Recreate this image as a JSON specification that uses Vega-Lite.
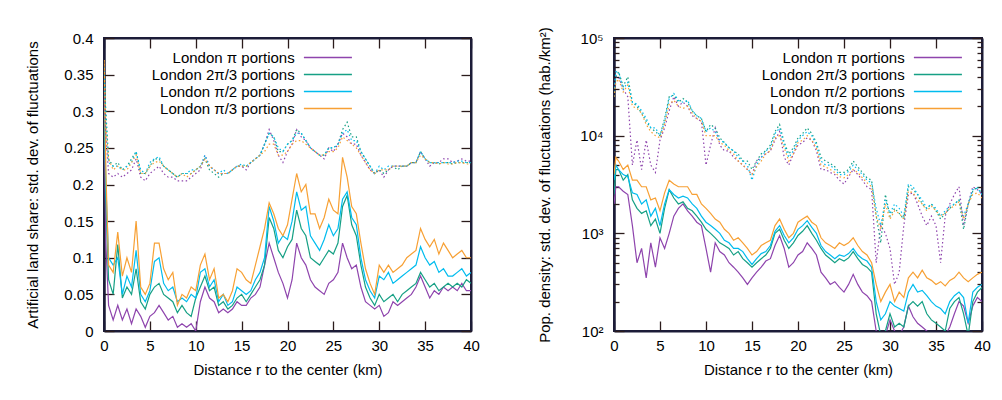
{
 "$schema": "https://vega.github.io/schema/vega-lite/v6.json",
 "background": "white",
 "padding": {"left": 24, "top": 25, "right": 5, "bottom": 5},
 "spacing": 55,
 "config": {
  "font": "Liberation Sans",
  "view": {"stroke": "#1c1c38", "strokeWidth": 2},
  "axis": {"domain": true, "domainColor": "#1c1c38", "domainWidth": 2, "grid": false, "ticks": true, "tickColor": "#2b1b1b", "tickSize": -10, "tickWidth": 1.3, "labelFlush": false, "labelFontSize": 15, "labelColor": "black", "labelFont": "Liberation Sans", "titleFontSize": 15, "titleFont": "Liberation Sans", "titleFontWeight": "normal", "titleColor": "black"},
  "legend": {"symbolType": "M-3.14,0H3.14", "symbolSize": 234, "symbolStrokeWidth": 1.5, "labelFontSize": 15, "labelFont": "Liberation Sans", "labelColor": "black", "labelAlign": "right", "labelOffset": -41.7, "labelLimit": 400, "rowPadding": 0, "padding": 0, "offset": 0}
 },
 "datasets": {
  "L": [
   {"r":0,"p1":0.30,"p2":0.33,"p3":0.35,"p4":0.37,"q1":0.33,"q2":0.35,"q3":0.36,"q4":0.37},
   {"r":0.2,"p1":0.12,"p2":0.18,"p3":0.2,"p4":0.22,"q1":0.27,"q2":0.3,"q3":0.29,"q4":0.28},
   {"r":0.5,"p1":0.035,"p2":0.07,"p3":0.1,"p4":0.09,"q1":0.215,"q2":0.235,"q3":0.23,"q4":0.235},
   {"r":1,"p1":0.015,"p2":0.05,"p3":0.09,"p4":0.08,"q1":0.21,"q2":0.225,"q3":0.225,"q4":0.22},
   {"r":1.5,"p1":0.035,"p2":0.118,"p3":0.1,"p4":0.135,"q1":0.215,"q2":0.23,"q3":0.225,"q4":0.225},
   {"r":2,"p1":0.015,"p2":0.045,"p3":0.05,"p4":0.075,"q1":0.21,"q2":0.22,"q3":0.22,"q4":0.22},
   {"r":2.5,"p1":0.03,"p2":0.06,"p3":0.075,"p4":0.1,"q1":0.215,"q2":0.225,"q3":0.225,"q4":0.22},
   {"r":3,"p1":0.01,"p2":0.05,"p3":0.06,"p4":0.08,"q1":0.22,"q2":0.235,"q3":0.23,"q4":0.23},
   {"r":3.5,"p1":0.03,"p2":0.085,"p3":0.11,"p4":0.15,"q1":0.235,"q2":0.245,"q3":0.245,"q4":0.24},
   {"r":4,"p1":0.02,"p2":0.04,"p3":0.05,"p4":0.06,"q1":0.21,"q2":0.215,"q3":0.22,"q4":0.215},
   {"r":4.5,"p1":0.005,"p2":0.03,"p3":0.04,"p4":0.05,"q1":0.205,"q2":0.215,"q3":0.215,"q4":0.215},
   {"r":5,"p1":0.02,"p2":0.05,"p3":0.055,"p4":0.065,"q1":0.215,"q2":0.225,"q3":0.23,"q4":0.225},
   {"r":5.5,"p1":0.025,"p2":0.06,"p3":0.095,"p4":0.12,"q1":0.22,"q2":0.235,"q3":0.235,"q4":0.23},
   {"r":6,"p1":0.035,"p2":0.065,"p3":0.1,"p4":0.12,"q1":0.225,"q2":0.235,"q3":0.238,"q4":0.232},
   {"r":6.5,"p1":0.025,"p2":0.05,"p3":0.065,"p4":0.085,"q1":0.215,"q2":0.225,"q3":0.225,"q4":0.225},
   {"r":7,"p1":0.015,"p2":0.045,"p3":0.055,"p4":0.07,"q1":0.21,"q2":0.22,"q3":0.22,"q4":0.22},
   {"r":7.5,"p1":0.02,"p2":0.04,"p3":0.06,"p4":0.08,"q1":0.21,"q2":0.215,"q3":0.215,"q4":0.215},
   {"r":8,"p1":0.005,"p2":0.025,"p3":0.04,"p4":0.035,"q1":0.205,"q2":0.21,"q3":0.21,"q4":0.21},
   {"r":8.5,"p1":0.01,"p2":0.035,"p3":0.045,"p4":0.05,"q1":0.205,"q2":0.215,"q3":0.215,"q4":0.215},
   {"r":9,"p1":0.005,"p2":0.025,"p3":0.04,"p4":0.045,"q1":0.205,"q2":0.215,"q3":0.215,"q4":0.21},
   {"r":9.5,"p1":0.01,"p2":0.02,"p3":0.05,"p4":0.06,"q1":0.21,"q2":0.215,"q3":0.22,"q4":0.215},
   {"r":10,"p1":0.0,"p2":0.045,"p3":0.045,"p4":0.055,"q1":0.215,"q2":0.22,"q3":0.22,"q4":0.22},
   {"r":10.5,"p1":0.04,"p2":0.06,"p3":0.08,"p4":0.09,"q1":0.22,"q2":0.225,"q3":0.225,"q4":0.225},
   {"r":11,"p1":0.06,"p2":0.075,"p3":0.085,"p4":0.105,"q1":0.24,"q2":0.235,"q3":0.24,"q4":0.235},
   {"r":11.5,"p1":0.045,"p2":0.055,"p3":0.06,"p4":0.07,"q1":0.225,"q2":0.22,"q3":0.225,"q4":0.225},
   {"r":12,"p1":0.04,"p2":0.06,"p3":0.07,"p4":0.085,"q1":0.22,"q2":0.215,"q3":0.22,"q4":0.22},
   {"r":12.5,"p1":0.025,"p2":0.035,"p3":0.04,"p4":0.045,"q1":0.215,"q2":0.21,"q3":0.215,"q4":0.215},
   {"r":13,"p1":0.03,"p2":0.04,"p3":0.05,"p4":0.05,"q1":0.215,"q2":0.215,"q3":0.22,"q4":0.215},
   {"r":13.5,"p1":0.025,"p2":0.03,"p3":0.035,"p4":0.04,"q1":0.215,"q2":0.215,"q3":0.215,"q4":0.215},
   {"r":14,"p1":0.03,"p2":0.035,"p3":0.04,"p4":0.055,"q1":0.22,"q2":0.22,"q3":0.22,"q4":0.22},
   {"r":14.5,"p1":0.04,"p2":0.045,"p3":0.06,"p4":0.085,"q1":0.225,"q2":0.225,"q3":0.225,"q4":0.225},
   {"r":15,"p1":0.035,"p2":0.05,"p3":0.055,"p4":0.08,"q1":0.225,"q2":0.225,"q3":0.228,"q4":0.225},
   {"r":15.5,"p1":0.035,"p2":0.04,"p3":0.05,"p4":0.07,"q1":0.22,"q2":0.225,"q3":0.225,"q4":0.225},
   {"r":16,"p1":0.045,"p2":0.05,"p3":0.055,"p4":0.065,"q1":0.23,"q2":0.23,"q3":0.23,"q4":0.23},
   {"r":16.5,"p1":0.05,"p2":0.06,"p3":0.07,"p4":0.09,"q1":0.235,"q2":0.235,"q3":0.235,"q4":0.235},
   {"r":17,"p1":0.06,"p2":0.07,"p3":0.08,"p4":0.115,"q1":0.24,"q2":0.24,"q3":0.24,"q4":0.24},
   {"r":17.5,"p1":0.09,"p2":0.09,"p3":0.1,"p4":0.14,"q1":0.255,"q2":0.255,"q3":0.255,"q4":0.245},
   {"r":18,"p1":0.12,"p2":0.155,"p3":0.17,"p4":0.175,"q1":0.275,"q2":0.27,"q3":0.27,"q4":0.255},
   {"r":18.5,"p1":0.1,"p2":0.14,"p3":0.15,"p4":0.16,"q1":0.26,"q2":0.265,"q3":0.265,"q4":0.255},
   {"r":19,"p1":0.08,"p2":0.11,"p3":0.12,"p4":0.14,"q1":0.24,"q2":0.245,"q3":0.25,"q4":0.24},
   {"r":19.5,"p1":0.065,"p2":0.1,"p3":0.13,"p4":0.13,"q1":0.23,"q2":0.245,"q3":0.245,"q4":0.24},
   {"r":20,"p1":0.045,"p2":0.115,"p3":0.125,"p4":0.145,"q1":0.245,"q2":0.255,"q3":0.255,"q4":0.245},
   {"r":20.5,"p1":0.07,"p2":0.125,"p3":0.15,"p4":0.18,"q1":0.255,"q2":0.26,"q3":0.26,"q4":0.255},
   {"r":21,"p1":0.12,"p2":0.165,"p3":0.19,"p4":0.215,"q1":0.275,"q2":0.275,"q3":0.27,"q4":0.26},
   {"r":21.5,"p1":0.1,"p2":0.14,"p3":0.165,"p4":0.19,"q1":0.265,"q2":0.27,"q3":0.27,"q4":0.26},
   {"r":22,"p1":0.09,"p2":0.13,"p3":0.17,"p4":0.2,"q1":0.26,"q2":0.26,"q3":0.26,"q4":0.255},
   {"r":22.5,"p1":0.07,"p2":0.1,"p3":0.13,"p4":0.16,"q1":0.25,"q2":0.25,"q3":0.25,"q4":0.25},
   {"r":23,"p1":0.06,"p2":0.095,"p3":0.12,"p4":0.16,"q1":0.245,"q2":0.245,"q3":0.245,"q4":0.245},
   {"r":23.5,"p1":0.055,"p2":0.09,"p3":0.11,"p4":0.14,"q1":0.24,"q2":0.24,"q3":0.24,"q4":0.24},
   {"r":24,"p1":0.05,"p2":0.1,"p3":0.125,"p4":0.155,"q1":0.235,"q2":0.24,"q3":0.24,"q4":0.24},
   {"r":24.5,"p1":0.065,"p2":0.11,"p3":0.145,"p4":0.18,"q1":0.25,"q2":0.25,"q3":0.25,"q4":0.245},
   {"r":25,"p1":0.07,"p2":0.105,"p3":0.13,"p4":0.165,"q1":0.245,"q2":0.25,"q3":0.25,"q4":0.245},
   {"r":25.5,"p1":0.08,"p2":0.12,"p3":0.14,"p4":0.16,"q1":0.255,"q2":0.255,"q3":0.255,"q4":0.25},
   {"r":26,"p1":0.12,"p2":0.17,"p3":0.18,"p4":0.237,"q1":0.27,"q2":0.275,"q3":0.27,"q4":0.265},
   {"r":26.5,"p1":0.1,"p2":0.185,"p3":0.19,"p4":0.21,"q1":0.265,"q2":0.285,"q3":0.275,"q4":0.26},
   {"r":27,"p1":0.085,"p2":0.145,"p3":0.155,"p4":0.17,"q1":0.255,"q2":0.265,"q3":0.26,"q4":0.255},
   {"r":27.5,"p1":0.09,"p2":0.13,"p3":0.145,"p4":0.16,"q1":0.255,"q2":0.265,"q3":0.26,"q4":0.25},
   {"r":28,"p1":0.06,"p2":0.09,"p3":0.1,"p4":0.12,"q1":0.24,"q2":0.245,"q3":0.245,"q4":0.24},
   {"r":28.5,"p1":0.04,"p2":0.06,"p3":0.07,"p4":0.085,"q1":0.23,"q2":0.235,"q3":0.235,"q4":0.23},
   {"r":29,"p1":0.035,"p2":0.045,"p3":0.055,"p4":0.065,"q1":0.22,"q2":0.225,"q3":0.225,"q4":0.22},
   {"r":29.5,"p1":0.03,"p2":0.035,"p3":0.045,"p4":0.05,"q1":0.215,"q2":0.215,"q3":0.215,"q4":0.215},
   {"r":30,"p1":0.035,"p2":0.05,"p3":0.075,"p4":0.09,"q1":0.22,"q2":0.22,"q3":0.225,"q4":0.22},
   {"r":30.5,"p1":0.02,"p2":0.04,"p3":0.07,"p4":0.08,"q1":0.21,"q2":0.215,"q3":0.22,"q4":0.22},
   {"r":31,"p1":0.025,"p2":0.045,"p3":0.08,"p4":0.09,"q1":0.22,"q2":0.22,"q3":0.225,"q4":0.22},
   {"r":31.5,"p1":0.04,"p2":0.05,"p3":0.065,"p4":0.08,"q1":0.225,"q2":0.225,"q3":0.225,"q4":0.225},
   {"r":32,"p1":0.035,"p2":0.04,"p3":0.07,"p4":0.085,"q1":0.225,"q2":0.22,"q3":0.225,"q4":0.225},
   {"r":32.5,"p1":0.04,"p2":0.05,"p3":0.075,"p4":0.09,"q1":0.225,"q2":0.225,"q3":0.225,"q4":0.225},
   {"r":33,"p1":0.045,"p2":0.055,"p3":0.08,"p4":0.1,"q1":0.225,"q2":0.225,"q3":0.225,"q4":0.225},
   {"r":33.5,"p1":0.05,"p2":0.06,"p3":0.085,"p4":0.105,"q1":0.23,"q2":0.23,"q3":0.23,"q4":0.23},
   {"r":34,"p1":0.06,"p2":0.065,"p3":0.09,"p4":0.11,"q1":0.23,"q2":0.23,"q3":0.23,"q4":0.23},
   {"r":34.5,"p1":0.075,"p2":0.08,"p3":0.115,"p4":0.14,"q1":0.245,"q2":0.245,"q3":0.245,"q4":0.24},
   {"r":35,"p1":0.06,"p2":0.07,"p3":0.1,"p4":0.125,"q1":0.235,"q2":0.235,"q3":0.235,"q4":0.235},
   {"r":35.5,"p1":0.045,"p2":0.06,"p3":0.09,"p4":0.115,"q1":0.225,"q2":0.23,"q3":0.23,"q4":0.23},
   {"r":36,"p1":0.055,"p2":0.065,"p3":0.095,"p4":0.125,"q1":0.23,"q2":0.23,"q3":0.23,"q4":0.23},
   {"r":36.5,"p1":0.05,"p2":0.055,"p3":0.08,"p4":0.105,"q1":0.23,"q2":0.228,"q3":0.23,"q4":0.228},
   {"r":37,"p1":0.06,"p2":0.06,"p3":0.085,"p4":0.12,"q1":0.235,"q2":0.23,"q3":0.23,"q4":0.23},
   {"r":37.5,"p1":0.055,"p2":0.065,"p3":0.075,"p4":0.11,"q1":0.235,"q2":0.23,"q3":0.23,"q4":0.228},
   {"r":38,"p1":0.06,"p2":0.06,"p3":0.075,"p4":0.1,"q1":0.23,"q2":0.228,"q3":0.23,"q4":0.228},
   {"r":38.5,"p1":0.055,"p2":0.065,"p3":0.08,"p4":0.105,"q1":0.232,"q2":0.23,"q3":0.232,"q4":0.23},
   {"r":39,"p1":0.065,"p2":0.06,"p3":0.085,"p4":0.11,"q1":0.235,"q2":0.23,"q3":0.232,"q4":0.23},
   {"r":39.5,"p1":0.055,"p2":0.07,"p3":0.075,"p4":0.1,"q1":0.232,"q2":0.23,"q3":0.23,"q4":0.228},
   {"r":40,"p1":0.055,"p2":0.065,"p3":0.08,"p4":0.1,"q1":0.232,"q2":0.23,"q3":0.23,"q4":0.228}
  ],
  "R": [
   {"r":0,"p1":2000,"p2":2500,"p3":3500,"p4":4000,"q1":30000,"q2":25000,"q3":28000,"q4":25000},
   {"r":0.2,"p1":3000,"p2":4500,"p3":5000,"p4":6000,"q1":40000,"q2":40000,"q3":45000,"q4":35000},
   {"r":0.5,"p1":3000,"p2":4500,"p3":4500,"p4":5500,"q1":40000,"q2":45000,"q3":45000,"q4":38000},
   {"r":1,"p1":2700,"p2":3500,"p3":4000,"p4":4500,"q1":30000,"q2":32000,"q3":30000,"q4":28000},
   {"r":1.5,"p1":2500,"p2":4000,"p3":3800,"p4":5000,"q1":25000,"q2":40000,"q3":35000,"q4":33000},
   {"r":2,"p1":1200,"p2":2200,"p3":2600,"p4":3500,"q1":5000,"q2":22000,"q3":22000,"q4":20000},
   {"r":2.5,"p1":500,"p2":1800,"p3":2500,"p4":3500,"q1":9000,"q2":20000,"q3":21000,"q4":19000},
   {"r":3,"p1":700,"p2":1600,"p3":2000,"p4":3000,"q1":4500,"q2":17000,"q3":18000,"q4":17000},
   {"r":3.5,"p1":350,"p2":1700,"p3":2200,"p4":3000,"q1":9000,"q2":14000,"q3":15000,"q4":13000},
   {"r":4,"p1":800,"p2":1200,"p3":1500,"p4":2200,"q1":5000,"q2":12000,"q3":12000,"q4":11000},
   {"r":4.5,"p1":450,"p2":1400,"p3":1800,"p4":2300,"q1":4200,"q2":11000,"q3":12000,"q4":10000},
   {"r":5,"p1":900,"p2":1000,"p3":1200,"p4":1700,"q1":9000,"q2":10000,"q3":10000,"q4":9500},
   {"r":5.5,"p1":700,"p2":1800,"p3":2000,"p4":2600,"q1":12000,"q2":15000,"q3":14000,"q4":13000},
   {"r":6,"p1":1000,"p2":2800,"p3":2800,"p4":3500,"q1":18000,"q2":25000,"q3":24000,"q4":21000},
   {"r":6.5,"p1":1500,"p2":2300,"p3":2500,"p4":3200,"q1":25000,"q2":26000,"q3":27000,"q4":23000},
   {"r":7,"p1":1800,"p2":2000,"p3":2300,"p4":3000,"q1":20000,"q2":22000,"q3":23000,"q4":20000},
   {"r":7.5,"p1":2000,"p2":2100,"p3":2400,"p4":3000,"q1":22000,"q2":24000,"q3":22000,"q4":19000},
   {"r":8,"p1":1700,"p2":1800,"p3":2300,"p4":3000,"q1":20000,"q2":22000,"q3":23000,"q4":20000},
   {"r":8.5,"p1":1500,"p2":1700,"p3":2000,"p4":2500,"q1":16000,"q2":18000,"q3":18000,"q4":17000},
   {"r":9,"p1":1300,"p2":1500,"p3":1800,"p4":2500,"q1":15000,"q2":16000,"q3":16000,"q4":15000},
   {"r":9.5,"p1":1200,"p2":1300,"p3":1500,"p4":2000,"q1":14000,"q2":15000,"q3":15000,"q4":14000},
   {"r":10,"p1":700,"p2":1100,"p3":1300,"p4":1800,"q1":5000,"q2":11000,"q3":11000,"q4":10000},
   {"r":10.5,"p1":400,"p2":1000,"p3":1200,"p4":1600,"q1":8000,"q2":13000,"q3":12000,"q4":10000},
   {"r":11,"p1":800,"p2":900,"p3":1100,"p4":1400,"q1":12000,"q2":12000,"q3":11000,"q4":10000},
   {"r":11.5,"p1":650,"p2":800,"p3":1000,"p4":1300,"q1":8000,"q2":9500,"q3":9000,"q4":8500},
   {"r":12,"p1":600,"p2":750,"p3":850,"p4":1100,"q1":7000,"q2":8500,"q3":8500,"q4":8000},
   {"r":12.5,"p1":500,"p2":700,"p3":800,"p4":1000,"q1":7000,"q2":7500,"q3":7500,"q4":7000},
   {"r":13,"p1":450,"p2":600,"p3":700,"p4":850,"q1":6000,"q2":7000,"q3":7000,"q4":6500},
   {"r":13.5,"p1":400,"p2":650,"p3":700,"p4":900,"q1":5500,"q2":6500,"q3":6000,"q4":5500},
   {"r":14,"p1":350,"p2":550,"p3":650,"p4":800,"q1":5000,"q2":5500,"q3":5500,"q4":5000},
   {"r":14.5,"p1":300,"p2":500,"p3":550,"p4":700,"q1":4500,"q2":5500,"q3":5000,"q4":4500},
   {"r":15,"p1":350,"p2":450,"p3":480,"p4":600,"q1":4000,"q2":4500,"q3":3500,"q4":4000},
   {"r":15.5,"p1":400,"p2":500,"p3":550,"p4":650,"q1":5500,"q2":5500,"q3":5000,"q4":4800},
   {"r":16,"p1":450,"p2":550,"p3":620,"p4":750,"q1":6000,"q2":6500,"q3":6000,"q4":5500},
   {"r":16.5,"p1":520,"p2":600,"p3":650,"p4":800,"q1":6500,"q2":7000,"q3":7000,"q4":6500},
   {"r":17,"p1":550,"p2":700,"p3":750,"p4":850,"q1":7000,"q2":8000,"q3":7500,"q4":7000},
   {"r":17.5,"p1":750,"p2":1000,"p3":1050,"p4":1200,"q1":9000,"q2":11000,"q3":10500,"q4":9500},
   {"r":18,"p1":950,"p2":1100,"p3":1200,"p4":1400,"q1":11000,"q2":13000,"q3":12000,"q4":10000},
   {"r":18.5,"p1":700,"p2":850,"p3":950,"p4":1100,"q1":6000,"q2":8500,"q3":8000,"q4":7500},
   {"r":19,"p1":450,"p2":700,"p3":800,"p4":900,"q1":5000,"q2":6500,"q3":6000,"q4":5500},
   {"r":19.5,"p1":500,"p2":800,"p3":900,"p4":1000,"q1":6500,"q2":7500,"q3":7000,"q4":6500},
   {"r":20,"p1":600,"p2":950,"p3":1100,"p4":1300,"q1":8000,"q2":9500,"q3":9000,"q4":8500},
   {"r":20.5,"p1":650,"p2":1050,"p3":1200,"p4":1400,"q1":8500,"q2":10500,"q3":10000,"q4":9000},
   {"r":21,"p1":800,"p2":1200,"p3":1350,"p4":1500,"q1":9500,"q2":12000,"q3":11000,"q4":10000},
   {"r":21.5,"p1":700,"p2":1000,"p3":1150,"p4":1300,"q1":9000,"q2":10500,"q3":10000,"q4":9000},
   {"r":22,"p1":600,"p2":850,"p3":1000,"p4":1200,"q1":7000,"q2":8500,"q3":8000,"q4":7500},
   {"r":22.5,"p1":400,"p2":700,"p3":750,"p4":900,"q1":4500,"q2":6000,"q3":5500,"q4":5000},
   {"r":23,"p1":350,"p2":600,"p3":650,"p4":800,"q1":4500,"q2":5500,"q3":5000,"q4":4800},
   {"r":23.5,"p1":300,"p2":550,"p3":600,"p4":750,"q1":4200,"q2":5200,"q3":5000,"q4":4500},
   {"r":24,"p1":320,"p2":500,"p3":550,"p4":700,"q1":4000,"q2":4800,"q3":4500,"q4":4200},
   {"r":24.5,"p1":280,"p2":550,"p3":600,"p4":800,"q1":3500,"q2":4200,"q3":4000,"q4":3800},
   {"r":25,"p1":250,"p2":520,"p3":580,"p4":750,"q1":3200,"q2":4200,"q3":4000,"q4":3700},
   {"r":25.5,"p1":300,"p2":560,"p3":620,"p4":800,"q1":3800,"q2":4500,"q3":4300,"q4":4000},
   {"r":26,"p1":380,"p2":650,"p3":700,"p4":900,"q1":4500,"q2":5500,"q3":5000,"q4":4500},
   {"r":26.5,"p1":300,"p2":550,"p3":600,"p4":750,"q1":4000,"q2":4800,"q3":4500,"q4":4200},
   {"r":27,"p1":250,"p2":480,"p3":550,"p4":650,"q1":3500,"q2":4200,"q3":4000,"q4":3700},
   {"r":27.5,"p1":230,"p2":450,"p3":520,"p4":600,"q1":3000,"q2":3700,"q3":3500,"q4":3300},
   {"r":28,"p1":200,"p2":400,"p3":450,"p4":500,"q1":2800,"q2":3500,"q3":3300,"q4":3000},
   {"r":28.5,"p1":100,"p2":150,"p3":200,"p4":300,"q1":500,"q2":1500,"q3":1800,"q4":1500},
   {"r":29,"p1":80,"p2":90,"p3":130,"p4":200,"q1":1200,"q2":800,"q3":1200,"q4":1100},
   {"r":29.5,"p1":90,"p2":100,"p3":150,"p4":250,"q1":1000,"q2":2500,"q3":2200,"q4":2000},
   {"r":30,"p1":130,"p2":150,"p3":200,"p4":300,"q1":700,"q2":1500,"q3":1600,"q4":1400},
   {"r":30.5,"p1":100,"p2":110,"p3":180,"p4":200,"q1":300,"q2":1800,"q3":2000,"q4":1700},
   {"r":31,"p1":90,"p2":120,"p3":170,"p4":250,"q1":400,"q2":1600,"q3":1800,"q4":1600},
   {"r":31.5,"p1":110,"p2":110,"p3":160,"p4":220,"q1":1200,"q2":1400,"q3":1500,"q4":1400},
   {"r":32,"p1":180,"p2":180,"p3":250,"p4":350,"q1":2500,"q2":3000,"q3":3200,"q4":2700},
   {"r":32.5,"p1":140,"p2":200,"p3":300,"p4":400,"q1":2600,"q2":2800,"q3":3000,"q4":2600},
   {"r":33,"p1":120,"p2":180,"p3":250,"p4":350,"q1":2000,"q2":2500,"q3":2500,"q4":2200},
   {"r":33.5,"p1":110,"p2":200,"p3":260,"p4":420,"q1":1500,"q2":2000,"q3":2200,"q4":2000},
   {"r":34,"p1":100,"p2":150,"p3":230,"p4":350,"q1":1200,"q2":1800,"q3":1800,"q4":1700},
   {"r":34.5,"p1":90,"p2":130,"p3":200,"p4":330,"q1":1500,"q2":2000,"q3":2000,"q4":1900},
   {"r":35,"p1":95,"p2":120,"p3":180,"p4":300,"q1":1200,"q2":1700,"q3":1800,"q4":1700},
   {"r":35.5,"p1":80,"p2":110,"p3":170,"p4":320,"q1":500,"q2":1400,"q3":1500,"q4":1500},
   {"r":36,"p1":90,"p2":100,"p3":150,"p4":290,"q1":1500,"q2":1600,"q3":1700,"q4":1600},
   {"r":36.5,"p1":110,"p2":170,"p3":200,"p4":330,"q1":2000,"q2":1800,"q3":1900,"q4":1800},
   {"r":37,"p1":150,"p2":200,"p3":230,"p4":350,"q1":2500,"q2":2000,"q3":2000,"q4":1900},
   {"r":37.5,"p1":200,"p2":220,"p3":250,"p4":400,"q1":3000,"q2":2200,"q3":2200,"q4":2100},
   {"r":38,"p1":180,"p2":150,"p3":220,"p4":350,"q1":1200,"q2":1100,"q3":1500,"q4":1400},
   {"r":38.5,"p1":120,"p2":90,"p3":120,"p4":320,"q1":2000,"q2":2000,"q3":2000,"q4":2000},
   {"r":39,"p1":180,"p2":200,"p3":250,"p4":350,"q1":3000,"q2":2700,"q3":2800,"q4":2500},
   {"r":39.5,"p1":220,"p2":250,"p3":280,"p4":380,"q1":2800,"q2":3000,"q3":2900,"q4":2600},
   {"r":40,"p1":200,"p2":280,"p3":300,"p4":400,"q1":2500,"q2":2500,"q3":2500,"q4":2300}
  ]
 },
 "resolve": {"scale": {"color": "independent"}, "legend": {"color": "independent"}},
 "hconcat": [
  {
   "width": 367, "height": 293,
   "view": {"stroke": "#1c1c38", "strokeWidth": 2},
   "data": {"name": "L"},
   "resolve": {"scale": {"color": "independent"}, "axis": {"x": "independent", "y": "independent"}},
   "layer": [
    {
     "transform": [{"fold": ["p1","p2","p3","p4"]}],
     "mark": {"type": "line", "strokeWidth": 1.2, "clip": true},
     "encoding": {
      "x": {"field": "r", "type": "quantitative", "scale": {"domain": [0,40], "nice": false, "zero": false}, "axis": {"values": [0,5,10,15,20,25,30,35,40], "title": "Distance r to the center (km)", "labelPadding": 17, "titlePadding": 9}},
      "y": {"field": "value", "type": "quantitative", "scale": {"domain": [0,0.4], "nice": false}, "axis": {"values": [0,0.05,0.1,0.15,0.2,0.25,0.3,0.35,0.4], "labelExpr": "'' + datum.value", "title": "Artificial land share: std. dev. of fluctuations", "tickSize": 0.01, "labelPadding": 11, "titlePadding": 23}},
      "color": {"field": "key", "type": "nominal", "scale": {"domain": ["p1","p2","p3","p4"], "range": ["#8e44ad","#16a085","#00bcee","#f7a034"]}, "legend": {"orient": "none", "legendX": 215.4, "legendY": 11, "title": null, "labelExpr": "datum.label == 'p1' ? 'London π portions' : datum.label == 'p2' ? 'London 2π/3 portions' : datum.label == 'p3' ? 'London π/2 portions' : 'London π/3 portions'"}}
     }
    },
    {
     "transform": [{"fold": ["q1","q2","q3","q4"]}],
     "mark": {"type": "line", "strokeWidth": 1.2, "strokeDash": [1.5, 2.5], "clip": true},
     "encoding": {
      "x": {"field": "r", "type": "quantitative", "scale": {"domain": [0,40], "nice": false, "zero": false}, "axis": {"orient": "top", "values": [0,5,10,15,20,25,30,35,40], "labels": false, "title": null}},
      "y": {"field": "value", "type": "quantitative", "scale": {"domain": [0,0.4], "nice": false}, "axis": {"orient": "right", "values": [0,0.05,0.1,0.15,0.2,0.25,0.3,0.35,0.4], "labels": false, "title": null}},
      "color": {"field": "key", "type": "nominal", "scale": {"domain": ["q1","q2","q3","q4"], "range": ["#8e44ad","#16a085","#00bcee","#f7a034"]}, "legend": null}
     }
    },
    {
     "transform": [{"filter": "false"}],
     "mark": {"type": "line", "clip": true},
     "encoding": {
      "x": {"field": "r", "type": "quantitative", "scale": {"domain": [0,40], "nice": false, "zero": false}, "axis": null},
      "y": {"field": "p1", "type": "quantitative", "scale": {"domain": [0,0.4], "nice": false}, "axis": {"orient": "left", "values": [0,0.05,0.1,0.15,0.2,0.25,0.3,0.35,0.4], "labels": false, "title": null, "tickSize": -10}}
     }
    }
   ]
  },
  {
   "width": 368, "height": 293,
   "view": {"stroke": "#1c1c38", "strokeWidth": 2},
   "data": {"name": "R"},
   "resolve": {"scale": {"color": "independent"}, "axis": {"x": "independent", "y": "independent"}},
   "layer": [
    {
     "transform": [{"fold": ["p1","p2","p3","p4"]}],
     "mark": {"type": "line", "strokeWidth": 1.2, "clip": true},
     "encoding": {
      "x": {"field": "r", "type": "quantitative", "scale": {"domain": [0,40], "nice": false, "zero": false}, "axis": {"values": [0,5,10,15,20,25,30,35,40], "title": "Distance r to the center (km)", "labelPadding": 17, "titlePadding": 9}},
      "y": {"field": "value", "type": "quantitative", "scale": {"type": "log", "domain": [100,100000], "nice": false}, "axis": {"values": [100,1000,10000,100000], "labelExpr": "datum.value == 100 ? '10²' : datum.value == 1000 ? '10³' : datum.value == 10000 ? '10⁴' : '10⁵'", "title": "Pop. density: std. dev. of fluctuations (hab./km²)", "tickSize": 0.01, "labelPadding": 11, "titlePadding": 27}},
      "color": {"field": "key", "type": "nominal", "scale": {"domain": ["p1","p2","p3","p4"], "range": ["#8e44ad","#16a085","#00bcee","#f7a034"]}, "legend": {"orient": "none", "legendX": 315.4, "legendY": 11, "title": null, "labelExpr": "datum.label == 'p1' ? 'London π portions' : datum.label == 'p2' ? 'London 2π/3 portions' : datum.label == 'p3' ? 'London π/2 portions' : 'London π/3 portions'"}}
     }
    },
    {
     "transform": [{"fold": ["q1","q2","q3","q4"]}],
     "mark": {"type": "line", "strokeWidth": 1.2, "strokeDash": [1.5, 2.5], "clip": true},
     "encoding": {
      "x": {"field": "r", "type": "quantitative", "scale": {"domain": [0,40], "nice": false, "zero": false}, "axis": {"orient": "top", "values": [0,5,10,15,20,25,30,35,40], "labels": false, "title": null}},
      "y": {"field": "value", "type": "quantitative", "scale": {"type": "log", "domain": [100,100000], "nice": false}, "axis": {"orient": "right", "values": [100,1000,10000,100000], "labels": false, "title": null}},
      "color": {"field": "key", "type": "nominal", "scale": {"domain": ["q1","q2","q3","q4"], "range": ["#8e44ad","#16a085","#00bcee","#f7a034"]}, "legend": null}
     }
    },
    {
     "transform": [{"filter": "false"}],
     "mark": {"type": "line", "clip": true},
     "encoding": {
      "x": {"field": "r", "type": "quantitative", "scale": {"domain": [0,40], "nice": false, "zero": false}, "axis": null},
      "y": {"field": "p1", "type": "quantitative", "scale": {"type": "log", "domain": [100,100000], "nice": false}, "axis": {"orient": "left", "values": [100,1000,10000,100000], "labels": false, "title": null, "tickSize": -10}}
     }
    },
    {
     "transform": [{"filter": "false"}],
     "mark": {"type": "line", "clip": true},
     "encoding": {
      "x": {"field": "r", "type": "quantitative", "scale": {"domain": [0,40], "nice": false, "zero": false}, "axis": null},
      "y": {"field": "p1", "type": "quantitative", "scale": {"type": "log", "domain": [100,100000], "nice": false}, "axis": {"orient": "left", "values": [200,300,400,500,600,700,800,900,2000,3000,4000,5000,6000,7000,8000,9000,20000,30000,40000,50000,60000,70000,80000,90000], "labels": false, "title": null, "tickSize": -5, "domain": false}}
     }
    },
    {
     "transform": [{"filter": "false"}],
     "mark": {"type": "line", "clip": true},
     "encoding": {
      "x": {"field": "r", "type": "quantitative", "scale": {"domain": [0,40], "nice": false, "zero": false}, "axis": null},
      "y": {"field": "p1", "type": "quantitative", "scale": {"type": "log", "domain": [100,100000], "nice": false}, "axis": {"orient": "right", "values": [200,300,400,500,600,700,800,900,2000,3000,4000,5000,6000,7000,8000,9000,20000,30000,40000,50000,60000,70000,80000,90000], "labels": false, "title": null, "tickSize": -5, "domain": false}}
     }
    }
   ]
  }
 ]
}
